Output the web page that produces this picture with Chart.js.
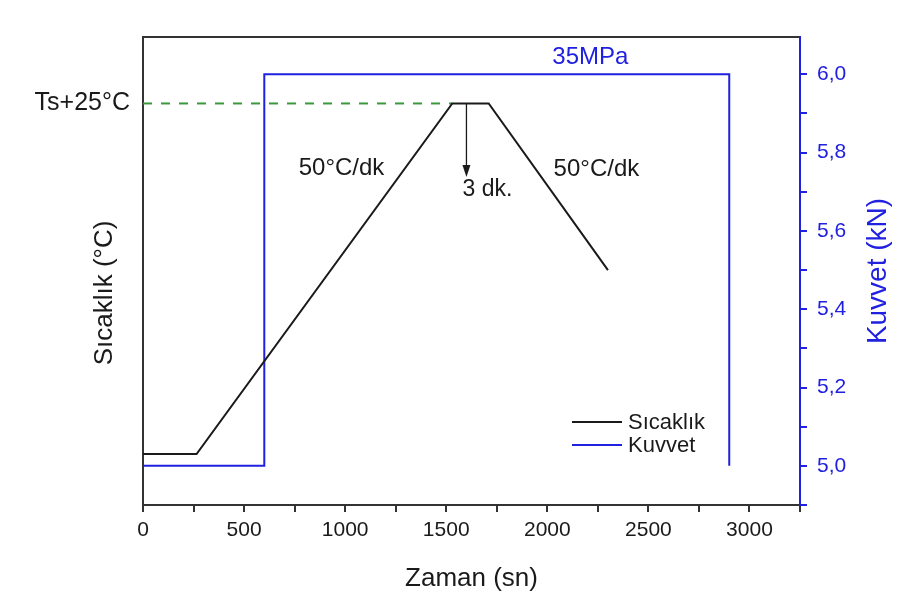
<!DOCTYPE html>
<html lang="tr">
<head>
  <meta charset="UTF-8" />
  <title>Sıcaklık ve Kuvvet - Zaman</title>
  <script src="https://cdn.jsdelivr.net/npm/chart.js"></script>
  <style>
    body { margin: 0; background: #fff; }
    #wrap { width: 910px; height: 615px; }
  </style>
</head>
<body>
  <div id="wrap">
    <canvas id="processChart" width="910" height="615"></canvas>
  </div>

  <script>
    // veriler
    const sicaklikZaman = [0, 265, 1530, 1710, 2300];      // sn
    const sicaklikDeger = [10.9, 10.9, 85.8, 85.8, 50.2];  // göreli sıcaklık
    const kuvvetZaman = [0, 600, 600, 2900, 2900];         // sn
    const kuvvetDeger = [5.0, 5.0, 6.0, 6.0, 5.0];         // kN
    const tsZaman = [0, 1530];
    const tsDeger = [85.8, 85.8];
    const tsEtiket = 'Ts+25°C';

    const xTicks = [0, 250, 500, 750, 1000, 1250, 1500, 1750, 2000, 2250, 2500, 2750, 3000, 3250];
    const xMajor = [0, 500, 1000, 1500, 2000, 2500, 3000];
    const kuvvetTicks = [4.9, 5.0, 5.1, 5.2, 5.3, 5.4, 5.5, 5.6, 5.7, 5.8, 5.9, 6.0];
    const kuvvetMajor = [5.0, 5.2, 5.4, 5.6, 5.8, 6.0];

    const BLUE = '#2020e0';
    const INK = '#1a1a1a';
    const FONT = "'Liberation Sans', Arial, sans-serif";
    Chart.defaults.font.family = FONT;
    Chart.defaults.color = INK;

    const toPoints = (xs, ys) => xs.map((x, i) => ({ x: x, y: ys[i] }));
    const isMajor = (list, v) => list.some(m => Math.abs(m - v) < 1e-6);

    // metin notları (veri koordinatlarında)
    const notlar = [
      { text: '50°C/dk', x: 982, y: 72.0, axis: 'yT', color: INK, size: 24 },
      { text: '50°C/dk', x: 2243, y: 71.8, axis: 'yT', color: INK, size: 24 },
      { text: '3 dk.', x: 1704, y: 67.3, axis: 'yT', color: INK, size: 23 },
      { text: '35MPa', x: 2213, y: 6.043, axis: 'yK', color: BLUE, size: 24 }
    ];
    const okX = 1600;
    const okY = [85.8, 70.1];

    const extrasPlugin = {
      id: 'extras',
      beforeDraw(chart) {
        const ctx = chart.ctx;
        ctx.save();
        ctx.fillStyle = '#fff';
        ctx.fillRect(0, 0, chart.width, chart.height);
        ctx.restore();
      },
      afterDraw(chart) {
        const ctx = chart.ctx;
        const xs = chart.scales.x;
        const area = chart.chartArea;
        ctx.save();
        ctx.textAlign = 'center';
        ctx.textBaseline = 'middle';

        notlar.forEach(n => {
          ctx.font = n.size + 'px ' + FONT;
          ctx.fillStyle = n.color;
          ctx.fillText(n.text, xs.getPixelForValue(n.x), chart.scales[n.axis].getPixelForValue(n.y));
        });

        // ok (3 dk.)
        const ax = xs.getPixelForValue(okX);
        const ay0 = chart.scales.yT.getPixelForValue(okY[0]);
        const ay1 = chart.scales.yT.getPixelForValue(okY[1]);
        ctx.strokeStyle = INK;
        ctx.fillStyle = INK;
        ctx.lineWidth = 1.3;
        ctx.beginPath();
        ctx.moveTo(ax, ay0);
        ctx.lineTo(ax, ay1 - 8);
        ctx.stroke();
        ctx.beginPath();
        ctx.moveTo(ax - 4, ay1 - 12);
        ctx.lineTo(ax + 4, ay1 - 12);
        ctx.lineTo(ax, ay1);
        ctx.closePath();
        ctx.fill();

        // eksen başlıkları (dikey)
        ctx.font = '26px ' + FONT;
        ctx.fillStyle = INK;
        ctx.translate(105, 293);
        ctx.rotate(-Math.PI / 2);
        ctx.fillText('Sıcaklık (°C)', 0, 0);
        ctx.setTransform(1, 0, 0, 1, 0, 0);
        ctx.font = '28px ' + FONT;
        ctx.fillStyle = BLUE;
        ctx.translate(878, (area.top + area.bottom) / 2);
        ctx.rotate(-Math.PI / 2);
        ctx.fillText('Kuvvet (kN)', 0, 0);
        ctx.setTransform(1, 0, 0, 1, 0, 0);

        // lejant
        const lx = area.right - 228;
        const ly = area.bottom - 83;
        ctx.font = '22px ' + FONT;
        ctx.textAlign = 'left';
        [chart.data.datasets[0], chart.data.datasets[1]].forEach((ds, i) => {
          const y = ly + i * 23;
          ctx.strokeStyle = ds.borderColor;
          ctx.lineWidth = 2;
          ctx.beginPath();
          ctx.moveTo(lx, y);
          ctx.lineTo(lx + 50, y);
          ctx.stroke();
          ctx.fillStyle = INK;
          ctx.fillText(ds.label, lx + 56, y + 1);
        });
        ctx.restore();
      }
    };

    const ctx = document.getElementById('processChart').getContext('2d');
    new Chart(ctx, {
      type: 'line',
      data: {
        datasets: [
          {
            label: 'Sıcaklık',
            data: toPoints(sicaklikZaman, sicaklikDeger),
            borderColor: INK,
            borderWidth: 2,
            yAxisID: 'yT'
          },
          {
            label: 'Kuvvet',
            data: toPoints(kuvvetZaman, kuvvetDeger),
            borderColor: BLUE,
            borderWidth: 2,
            yAxisID: 'yK'
          },
          {
            label: 'Ts',
            data: toPoints(tsZaman, tsDeger),
            borderColor: '#3a9a3a',
            borderWidth: 2,
            borderDash: [9, 9],
            yAxisID: 'yT'
          }
        ]
      },
      options: {
        responsive: false,
        animation: false,
        layout: { padding: 0 },
        elements: {
          point: { radius: 0 },
          line: { tension: 0, fill: false }
        },
        plugins: {
          legend: { display: false },
          tooltip: { enabled: false }
        },
        scales: {
          x: {
            type: 'linear',
            position: 'bottom',
            min: 0,
            max: 3250,
            afterBuildTicks: s => { s.ticks = xTicks.map(v => ({ value: v })); },
            afterFit: s => { s.height = 110; },
            ticks: {
              autoSkip: false,
              maxRotation: 0,
              padding: 6,
              color: INK,
              font: { size: 21 },
              callback: v => isMajor(xMajor, v) ? String(v) : ''
            },
            grid: { drawOnChartArea: false, color: '#333', lineWidth: 2, tickLength: 7 },
            border: { color: '#333', width: 2 },
            title: {
              display: true,
              text: 'Zaman (sn)',
              color: INK,
              font: { size: 26 },
              padding: { top: 0, bottom: 21 }
            }
          },
          xTop: {
            type: 'linear',
            position: 'top',
            min: 0,
            max: 1,
            afterFit: s => { s.height = 37; },
            ticks: { display: false },
            grid: { drawOnChartArea: false, drawTicks: false },
            border: { color: '#333', width: 2 }
          },
          yT: {
            type: 'linear',
            position: 'left',
            min: 0,
            max: 100,
            afterBuildTicks: s => { s.ticks = [{ value: tsDeger[0] }]; },
            afterFit: s => { s.width = 143; },
            ticks: {
              padding: 13,
              color: INK,
              font: { size: 25 },
              callback: () => tsEtiket
            },
            grid: { drawOnChartArea: false, drawTicks: false },
            border: { color: '#333', width: 2 }
          },
          yK: {
            type: 'linear',
            position: 'right',
            min: 4.9,
            max: 6.095,
            afterBuildTicks: s => { s.ticks = kuvvetTicks.map(v => ({ value: v })); },
            afterFit: s => { s.width = 110; },
            ticks: {
              autoSkip: false,
              padding: 10,
              color: BLUE,
              font: { size: 21 },
              callback: v => isMajor(kuvvetMajor, v) ? v.toFixed(1).replace('.', ',') : ''
            },
            grid: { drawOnChartArea: false, color: BLUE, lineWidth: 2, tickLength: 7 },
            border: { color: BLUE, width: 2 }
          }
        }
      },
      plugins: [extrasPlugin]
    });
  </script>
</body>
</html>
